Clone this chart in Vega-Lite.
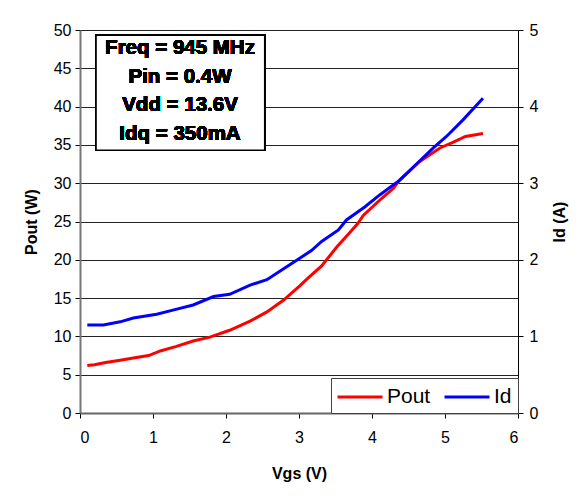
{
  "$schema": "https://vega.github.io/schema/vega-lite/v6.json",
  "autosize": "none",
  "width": 438,
  "height": 383,
  "padding": {"left": 80, "top": 30, "right": 66, "bottom": 91},
  "background": "white",
  "config": {
    "font": "Liberation Sans",
    "view": {"stroke": "#555", "strokeWidth": 1}
  },
  "data": {"values": [
    {"Vgs": 0.1, "series": "Pout", "value": 6.2},
    {"Vgs": 0.2, "series": "Pout", "value": 6.3},
    {"Vgs": 0.35, "series": "Pout", "value": 6.6},
    {"Vgs": 0.55, "series": "Pout", "value": 6.9},
    {"Vgs": 0.75, "series": "Pout", "value": 7.2},
    {"Vgs": 0.94, "series": "Pout", "value": 7.5},
    {"Vgs": 1.1, "series": "Pout", "value": 8.1},
    {"Vgs": 1.32, "series": "Pout", "value": 8.7},
    {"Vgs": 1.55, "series": "Pout", "value": 9.4},
    {"Vgs": 1.78, "series": "Pout", "value": 9.9},
    {"Vgs": 2.05, "series": "Pout", "value": 10.8},
    {"Vgs": 2.33, "series": "Pout", "value": 12.0},
    {"Vgs": 2.56, "series": "Pout", "value": 13.2},
    {"Vgs": 2.79, "series": "Pout", "value": 14.75},
    {"Vgs": 3.01, "series": "Pout", "value": 16.6},
    {"Vgs": 3.1, "series": "Pout", "value": 17.4},
    {"Vgs": 3.31, "series": "Pout", "value": 19.2},
    {"Vgs": 3.52, "series": "Pout", "value": 21.7},
    {"Vgs": 3.7, "series": "Pout", "value": 23.6},
    {"Vgs": 3.81, "series": "Pout", "value": 24.8},
    {"Vgs": 3.88, "series": "Pout", "value": 25.8},
    {"Vgs": 4.13, "series": "Pout", "value": 28.0},
    {"Vgs": 4.29, "series": "Pout", "value": 29.3},
    {"Vgs": 4.38, "series": "Pout", "value": 30.4},
    {"Vgs": 4.65, "series": "Pout", "value": 32.8},
    {"Vgs": 4.93, "series": "Pout", "value": 34.6},
    {"Vgs": 5.1, "series": "Pout", "value": 35.3},
    {"Vgs": 5.28, "series": "Pout", "value": 36.1},
    {"Vgs": 5.52, "series": "Pout", "value": 36.5},
    {"Vgs": 0.1, "series": "Id", "value": 1.15},
    {"Vgs": 0.32, "series": "Id", "value": 1.15},
    {"Vgs": 0.55, "series": "Id", "value": 1.19},
    {"Vgs": 0.73, "series": "Id", "value": 1.24},
    {"Vgs": 1.05, "series": "Id", "value": 1.29},
    {"Vgs": 1.3, "series": "Id", "value": 1.35},
    {"Vgs": 1.55, "series": "Id", "value": 1.41},
    {"Vgs": 1.83, "series": "Id", "value": 1.52},
    {"Vgs": 2.05, "series": "Id", "value": 1.55},
    {"Vgs": 2.33, "series": "Id", "value": 1.67},
    {"Vgs": 2.56, "series": "Id", "value": 1.74},
    {"Vgs": 2.8, "series": "Id", "value": 1.89},
    {"Vgs": 3.01, "series": "Id", "value": 2.02},
    {"Vgs": 3.17, "series": "Id", "value": 2.12},
    {"Vgs": 3.31, "series": "Id", "value": 2.24},
    {"Vgs": 3.54, "series": "Id", "value": 2.39},
    {"Vgs": 3.65, "series": "Id", "value": 2.52},
    {"Vgs": 3.9, "series": "Id", "value": 2.69},
    {"Vgs": 4.11, "series": "Id", "value": 2.85},
    {"Vgs": 4.38, "series": "Id", "value": 3.04},
    {"Vgs": 4.62, "series": "Id", "value": 3.26},
    {"Vgs": 4.84, "series": "Id", "value": 3.46},
    {"Vgs": 5.02, "series": "Id", "value": 3.61},
    {"Vgs": 5.25, "series": "Id", "value": 3.83},
    {"Vgs": 5.52, "series": "Id", "value": 4.11}
  ]},
  "encoding": {
    "x": {"field": "Vgs", "type": "quantitative", "scale": {"domain": [0, 6], "nice": false},
      "axis": {"title": "Vgs (V)", "values": [0, 1, 2, 3, 4, 5, 6], "grid": false, "labelPadding": 11, "titlePadding": 20, "domainWidth": 2, "domainColor": "#666", "tickColor": "black", "tickSize": 5, "labelFont": "Liberation Sans", "labelFontSize": 16, "labelColor": "black", "titleFont": "Liberation Sans", "titleFontSize": 16, "titleFontWeight": "bold", "titleColor": "black"}}
  },
  "layer": [
    {
      "transform": [{"filter": "datum.series === 'Pout'"}],
      "layer": [
        {
          "mark": {"type": "line", "strokeWidth": 3},
          "encoding": {
            "y": {"field": "value", "type": "quantitative", "scale": {"domain": [0, 50], "nice": false},
              "axis": {"title": "Pout (W)", "orient": "left", "values": [0, 5, 10, 15, 20, 25, 30, 35, 40, 45, 50], "labelOverlap": false, "grid": true, "gridColor": "#222", "gridOpacity": 1, "gridWidth": 1, "domainWidth": 2, "domainColor": "#777", "tickColor": "black", "tickSize": 5, "labelPadding": 4, "titlePadding": 14, "labelFont": "Liberation Sans", "labelFontSize": 16, "labelColor": "black", "titleFont": "Liberation Sans", "titleFontSize": 16, "titleFontWeight": "bold", "titleColor": "black"}},
            "color": {"field": "series", "type": "nominal", "scale": {"domain": ["Pout", "Id"], "range": ["#ff0000", "#0000ff"]},
              "legend": {"title": null, "orient": "bottom-right", "offset": 0, "direction": "horizontal", "symbolType": "M-2,0H2", "symbolSize": 506, "symbolStrokeWidth": 3, "labelFontSize": 21, "labelFont": "Liberation Sans", "labelColor": "black", "strokeColor": "#444", "fillColor": "white", "padding": 6, "columnPadding": 7, "symbolOffset": 10, "labelOffset": 14}}
          }
        },
        {
          "mark": {"type": "rect", "fill": "white", "stroke": "black", "strokeWidth": 1.5},
          "encoding": {
            "x": {"datum": 0.22},
            "x2": {"datum": 2.53},
            "y": {"datum": 49.3, "type": "quantitative",
              "axis": {"title": "Pout (W)", "orient": "left", "values": [0, 5, 10, 15, 20, 25, 30, 35, 40, 45, 50], "labelOverlap": false, "grid": true, "gridColor": "#222", "gridOpacity": 1, "gridWidth": 1, "domainWidth": 2, "domainColor": "#777", "tickColor": "black", "tickSize": 5, "labelPadding": 4, "titlePadding": 14, "labelFont": "Liberation Sans", "labelFontSize": 16, "labelColor": "black", "titleFont": "Liberation Sans", "titleFontSize": 16, "titleFontWeight": "bold", "titleColor": "black"}},
            "y2": {"datum": 34.3}
          }
        },
        {
          "mark": {"type": "text", "fontSize": 20.5, "fontWeight": "bold", "font": "Liberation Sans", "align": "center", "baseline": "middle", "lineHeight": 28.5, "fill": "black"},
          "encoding": {
            "x": {"datum": 1.37},
            "y": {"datum": 47.6, "type": "quantitative",
              "axis": {"title": "Pout (W)", "orient": "left", "values": [0, 5, 10, 15, 20, 25, 30, 35, 40, 45, 50], "labelOverlap": false, "grid": true, "gridColor": "#222", "gridOpacity": 1, "gridWidth": 1, "domainWidth": 2, "domainColor": "#777", "tickColor": "black", "tickSize": 5, "labelPadding": 4, "titlePadding": 14, "labelFont": "Liberation Sans", "labelFontSize": 16, "labelColor": "black", "titleFont": "Liberation Sans", "titleFontSize": 16, "titleFontWeight": "bold", "titleColor": "black"}},
            "text": {"value": ["Freq = 945 MHz", "Pin = 0.4W", "Vdd = 13.6V", "Idq = 350mA"]}
          }
        }
      ]
    },
    {
      "transform": [{"filter": "datum.series === 'Id'"}],
      "mark": {"type": "line", "strokeWidth": 3},
      "encoding": {
        "y": {"field": "value", "type": "quantitative", "scale": {"domain": [0, 5], "nice": false},
          "axis": {"title": "Id (A)", "orient": "right", "titleAngle": -90, "values": [0, 1, 2, 3, 4, 5], "grid": false, "domainColor": "black", "domainWidth": 1, "tickColor": "black", "tickSize": 5, "labelPadding": 6, "titlePadding": 30, "labelFont": "Liberation Sans", "labelFontSize": 16, "labelColor": "black", "titleFont": "Liberation Sans", "titleFontSize": 16, "titleFontWeight": "bold", "titleColor": "black"}},
        "color": {"field": "series", "type": "nominal"}
      }
    }
  ],
  "resolve": {"scale": {"y": "independent"}}
}
